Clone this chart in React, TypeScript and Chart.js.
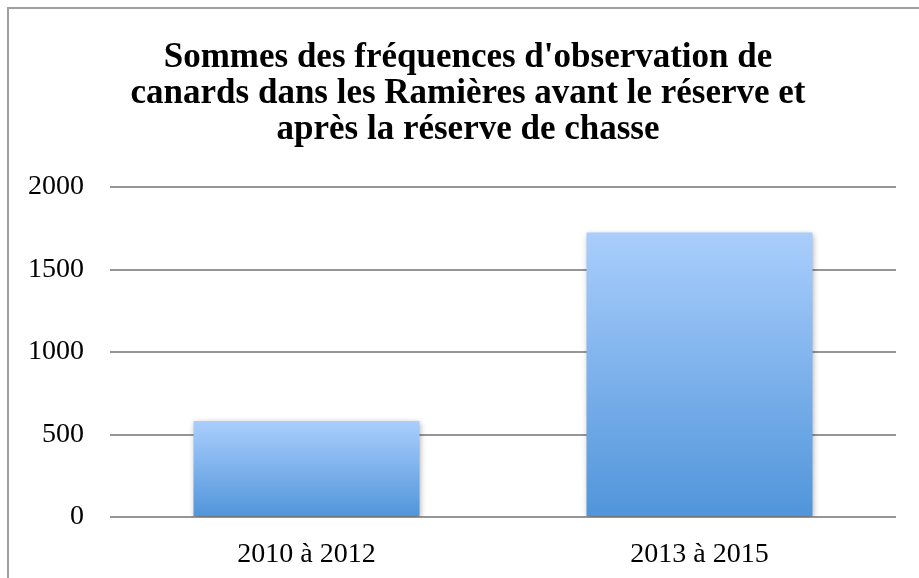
import React, { useEffect, useRef } from "react";
import { Chart, registerables } from "chart.js";

Chart.register(...registerables);

const categories = ["2010 à 2012", "2013 à 2015"];
const values = [582, 1724];
const titleLines = [
  "Sommes des fréquences d'observation de",
  "canards dans les Ramières avant le réserve et",
  "après la réserve de chasse",
];
const yMin = 0;
const yMax = 2000;
const yStep = 500;

const barShadow = {
  id: "barShadow",
  beforeDatasetsDraw(chart: any) {
    const ctx = chart.ctx;
    ctx.save();
    ctx.shadowColor = "rgba(0,0,0,0.35)";
    ctx.shadowBlur = 6;
    ctx.shadowOffsetX = 1;
    ctx.shadowOffsetY = 2;
  },
  afterDatasetsDraw(chart: any) {
    chart.ctx.restore();
  },
};

const titleShift = {
  id: "titleShift",
  afterLayout(chart: any) {
    const tb = chart.titleBlock;
    if (tb) tb.left += 31;
  },
};

export default function App() {
  const ref = useRef<HTMLCanvasElement>(null);
  useEffect(() => {
    if (!ref.current) return;
    const chart = new Chart(ref.current, {
      type: "bar",
      data: {
        labels: categories,
        datasets: [
          {
            data: values,
            backgroundColor: (c: any) => {
              const ch = c.chart;
              const y = ch.scales && ch.scales.y;
              if (!y || c.dataIndex === undefined) return "#7fb0ec";
              const v = c.dataset.data[c.dataIndex];
              const top = y.getPixelForValue(v);
              const bottom = y.getPixelForValue(0);
              if (!isFinite(top) || !isFinite(bottom) || top === bottom) return "#7fb0ec";
              const g = ch.ctx.createLinearGradient(0, top, 0, bottom);
              g.addColorStop(0, "#aacefd");
              g.addColorStop(1, "#5095da");
              return g;
            },
            borderWidth: 0,
            barPercentage: 0.575,
            categoryPercentage: 1,
          },
        ],
      },
      options: {
        animation: false,
        responsive: false,
        maintainAspectRatio: false,
        layout: { padding: { left: 0, right: 23, top: 0, bottom: 0 } },
        plugins: {
          legend: { display: false },
          tooltip: { enabled: false },
          title: {
            display: true,
            text: titleLines,
            color: "#000",
            font: { family: "'Liberation Serif'", size: 35, weight: "bold", lineHeight: "36px" },
            padding: { top: 31, bottom: 39 },
          },
        },
        scales: {
          x: {
            grid: { display: false, drawTicks: false },
            border: { display: false },
            ticks: {
              color: "#000",
              font: { family: "'Liberation Serif'", size: 28 },
              padding: 21,
            },
            afterFit: (s: any) => {
              s.height = 61;
            },
          },
          y: {
            min: yMin,
            max: yMax,
            grid: { color: "#969696", lineWidth: 2, drawTicks: false },
            border: { display: false },
            ticks: {
              stepSize: yStep,
              color: "#000",
              font: { family: "'Liberation Serif'", size: 28 },
              padding: 26,
              callback: (v: any) => String(v),
            },
            afterFit: (s: any) => {
              s.width = 101;
            },
          },
        },
      },
      plugins: [barShadow, titleShift],
    });
    return () => chart.destroy();
  }, []);
  return (
    <div
      style={{
        position: "fixed",
        left: 7,
        top: 7,
        width: 910,
        height: 569,
        borderLeft: "2px solid #a0a0a0",
        borderTop: "2px solid #a0a0a0",
        overflow: "hidden",
        background: "#fff",
      }}
    >
      <canvas ref={ref} width={910} height={569} style={{ display: "block", width: 910, height: 569 }} />
    </div>
  );
}
